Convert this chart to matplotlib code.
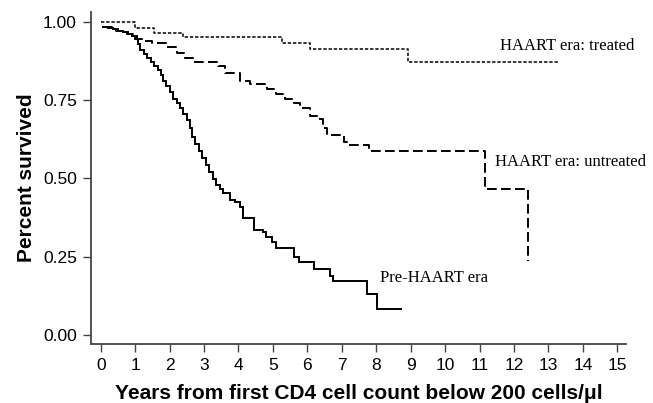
import matplotlib
matplotlib.use("Agg")
import matplotlib.pyplot as plt

# Pre-HAART era (solid)
pre_t = [0.06, 0.2, 0.35, 0.5, 0.65, 0.8, 0.9, 1.0, 1.08, 1.15, 1.25, 1.35, 1.45, 1.55, 1.65,
         1.75, 1.82, 1.9, 2.0, 2.1, 2.2, 2.3, 2.4, 2.5, 2.58, 2.65, 2.75, 2.85, 2.95, 3.05,
         3.15, 3.25, 3.35, 3.45, 3.55, 3.75, 3.9, 4.04, 4.13, 4.45, 4.7, 4.8, 4.97, 5.1,
         5.6, 5.75, 6.2, 6.66, 6.75, 7.73, 8.02, 8.72]
pre_s = [0.984, 0.98, 0.976, 0.972, 0.968, 0.962, 0.955, 0.946, 0.93, 0.91, 0.898, 0.886,
         0.872, 0.858, 0.845, 0.83, 0.812, 0.795, 0.775, 0.755, 0.74, 0.724, 0.705, 0.685,
         0.66, 0.632, 0.61, 0.588, 0.565, 0.542, 0.52, 0.498, 0.48, 0.465, 0.455, 0.432,
         0.425, 0.41, 0.373, 0.335, 0.329, 0.313, 0.297, 0.278, 0.249, 0.233, 0.21, 0.19,
         0.172, 0.131, 0.083, 0.083]

# HAART era: untreated (long dashes)
unt_t = [0.06, 0.45, 0.75, 1.04, 1.25, 1.48, 1.92, 2.2, 2.45, 2.67, 3.4, 3.6, 4.04, 4.33,
         4.83, 5.1, 5.35, 5.6, 5.8, 6.08, 6.3, 6.45, 6.57, 7.05, 7.18, 7.8, 11.15, 12.42]
unt_s = [0.984, 0.972, 0.962, 0.945, 0.938, 0.931, 0.92, 0.90, 0.885, 0.873, 0.86, 0.835,
         0.81, 0.80, 0.785, 0.77, 0.755, 0.74, 0.725, 0.70, 0.69, 0.66, 0.638, 0.615, 0.606,
         0.587, 0.467, 0.235]

# HAART era: treated (short dashes)
trt_t = [0.0, 0.99, 1.55, 2.4, 5.25, 6.08, 8.93, 13.3]
trt_s = [1.0, 0.98, 0.963, 0.95, 0.931, 0.912, 0.872, 0.872]

x_ticks = list(range(0, 16))
y_ticks = [0.0, 0.25, 0.5, 0.75, 1.0]
y_ticklabels = ["0.00", "0.25", "0.50", "0.75", "1.00"]

fig = plt.figure(figsize=(6.53, 4.03), dpi=100)
ax = fig.add_axes([0.139, 0.146, 0.82, 0.824])

ax.plot(pre_t, pre_s, drawstyle="steps-post", color="black", lw=1.4, solid_joinstyle="miter")
ax.plot(unt_t, unt_s, drawstyle="steps-post", color="black", lw=1.4, dashes=(5, 2.2))
ax.plot(trt_t, trt_s, drawstyle="steps-post", color="black", lw=1.1, dashes=(2.2, 1.2))

serif = ["Liberation Serif", "DejaVu Serif"]
ax.text(11.6, 0.922, "HAART era: treated", family=serif, fontsize=12, va="center", ha="left")
ax.text(11.45, 0.552, "HAART era: untreated", family=serif, fontsize=12, va="center", ha="left")
ax.text(8.11, 0.182, "Pre-HAART era", family=serif, fontsize=12, va="center", ha="left")

ax.set_xlim(-0.29, 15.26)
ax.set_ylim(-0.029, 1.031)
ax.set_xticks(x_ticks)
ax.set_yticks(y_ticks)
ax.set_yticklabels(y_ticklabels)

sans = ["Liberation Sans", "DejaVu Sans"]
for lab in ax.get_xticklabels() + ax.get_yticklabels():
    lab.set_family(sans)
    lab.set_fontsize(12.5)

ax.tick_params(direction="out", length=6, width=1.0, color="#444444", pad=4)
for s in ["top", "right"]:
    ax.spines[s].set_visible(False)
for s in ["left", "bottom"]:
    ax.spines[s].set_color("#444444")
    ax.spines[s].set_linewidth(1.3)

ax.set_xlabel("Years from first CD4 cell count below 200 cells/μl", family=sans,
              fontsize=15, fontweight="bold", labelpad=8)
ax.set_ylabel("Percent survived", family=sans, fontsize=15, fontweight="bold", labelpad=5)

fig.savefig("out.png", dpi=100)
